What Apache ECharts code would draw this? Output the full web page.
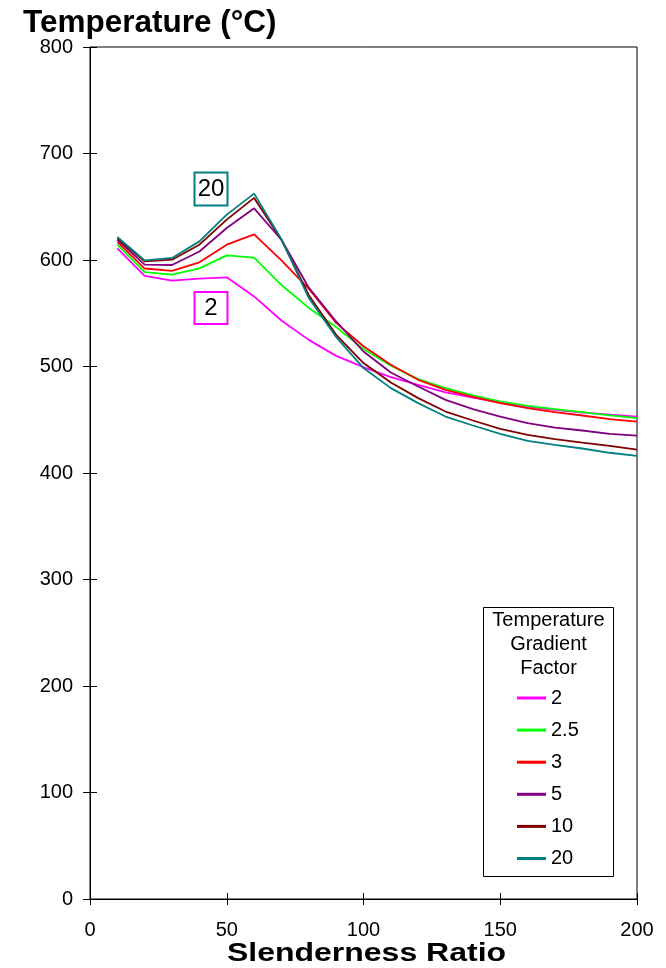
<!DOCTYPE html>
<html>
<head>
<meta charset="utf-8">
<title>Temperature vs Slenderness Ratio</title>
<script src="https://cdn.jsdelivr.net/npm/echarts@6/dist/echarts.min.js"></script>
<style>
  html, body { margin: 0; padding: 0; background: #fff; }
  #chart { width: 666px; height: 968px; }
</style>
</head>
<body>
<div id="chart"></div>
<script>
// Slenderness ratio sample points
const slenderness = [10, 20, 30, 40, 50, 60, 70, 80, 90, 100, 110, 120, 130, 140, 150, 160, 170, 180, 190, 200];

// Temperature (°C) for each temperature gradient factor
const factorNames = ['2', '2.5', '3', '5', '10', '20'];
const tempFactor2   = [611, 585, 580.6, 582.5, 583.7, 565.8, 543.2, 525, 510, 499.4, 490, 482.8, 475.6, 470.9, 466.2, 462.4, 459.3, 456.8, 454.8, 453];
const tempFactor2_5 = [614.4, 588.7, 586.2, 592.1, 604.4, 602.2, 576.5, 555, 537, 516.5, 500.7, 488.1, 479.7, 472.8, 467.2, 463, 460, 457.1, 454.2, 451.5];
const tempFactor3   = [617, 592, 589.7, 597.8, 614.4, 624.1, 599.7, 573, 541, 519, 501.6, 487.5, 478.1, 471.5, 465.6, 460.9, 457.1, 454, 450.5, 448.3];
const tempFactor5   = [619, 595.6, 595.3, 608, 630, 648.5, 619, 574, 542.3, 514.1, 494.4, 481.2, 468.7, 460, 453, 446.8, 442.7, 439.9, 436.7, 435.1];
const tempFactor10  = [620.3, 598.7, 600.3, 614.4, 637.9, 658.3, 619, 567, 529.8, 503.2, 485, 470.3, 457.7, 449.3, 441.4, 435.8, 431.8, 428.6, 425.5, 422];
const tempFactor20  = [621.6, 599.6, 601.9, 617.5, 642.6, 662.3, 619.5, 564.3, 527.6, 498.5, 479.7, 465.6, 453, 444.6, 436.7, 430.2, 426.4, 423, 419, 416];

const xTicks = [0, 50, 100, 150, 200];
const yTicks = [0, 100, 200, 300, 400, 500, 600, 700, 800];

const seriesValues = [tempFactor2, tempFactor2_5, tempFactor3, tempFactor5, tempFactor10, tempFactor20];
const seriesColors = ['#FF00FF', '#00FF00', '#FF0000', '#800080', '#800000', '#008080'];

const FONT = "'Liberation Sans', Arial, Helvetica, sans-serif";

const chart = echarts.init(document.getElementById('chart'), null, { renderer: 'canvas' });

const series = factorNames.map((name, i) => ({
  name: name,
  type: 'line',
  xAxisIndex: 0,
  yAxisIndex: 0,
  data: slenderness.map((x, j) => [x, seriesValues[i][j]]),
  symbol: 'none',
  smooth: false,
  lineStyle: { color: seriesColors[i], width: 1.8 },
  itemStyle: { color: seriesColors[i] },
  emphasis: { disabled: true },
  z: 3 + i
}));

const xRange = { min: xTicks[0], max: xTicks[xTicks.length - 1], interval: xTicks[1] - xTicks[0] };
const yRange = { min: yTicks[0], max: yTicks[yTicks.length - 1], interval: yTicks[1] - yTicks[0] };

chart.setOption({
  backgroundColor: '#ffffff',
  animation: false,
  title: {
    text: 'Temperature (°C)',
    left: 18,
    top: 2,
    textStyle: { fontFamily: FONT, fontSize: 31.5, fontWeight: 'bold', color: '#000', lineHeight: 32 }
  },
  grid: {
    left: 90, right: 29, top: 47, bottom: 69,
    show: true, borderColor: '#000', borderWidth: 1, backgroundColor: 'transparent'
  },
  legend: {
    orient: 'vertical',
    left: 512,
    top: 683,
    itemWidth: 29,
    itemHeight: 3,
    itemGap: 12.1,
    icon: 'rect',
    selectedMode: false,
    data: factorNames,
    textStyle: { fontFamily: FONT, fontSize: 20, color: '#000', lineHeight: 20 }
  },
  xAxis: [{
    type: 'value',
    min: xRange.min, max: xRange.max, interval: xRange.interval,
    axisLine: { show: true, lineStyle: { color: '#000', width: 1 } },
    axisTick: { show: true, length: 6, lineStyle: { color: '#000' } },
    axisLabel: { margin: 21, fontFamily: FONT, fontSize: 20, color: '#000' },
    splitLine: { show: false }
  }, {
    type: 'value',
    position: 'bottom',
    min: xRange.min, max: xRange.max, interval: xRange.interval,
    axisLine: { show: false },
    axisTick: { show: true, inside: true, length: 6, lineStyle: { color: '#000' } },
    axisLabel: { show: false },
    splitLine: { show: false }
  }],
  yAxis: [{
    type: 'value',
    min: yRange.min, max: yRange.max, interval: yRange.interval,
    axisLine: { show: true, lineStyle: { color: '#000', width: 1 } },
    axisTick: { show: true, length: 7, lineStyle: { color: '#000' } },
    axisLabel: { margin: 17, fontFamily: FONT, fontSize: 20, color: '#000', padding: [3, 0, 0, 0] },
    splitLine: { show: false }
  }, {
    type: 'value',
    position: 'left',
    min: yRange.min, max: yRange.max, interval: yRange.interval,
    axisLine: { show: false },
    axisTick: { show: true, inside: true, length: 7, lineStyle: { color: '#000' } },
    axisLabel: { show: false },
    splitLine: { show: false }
  }],
  graphic: [
    // x-axis title
    {
      type: 'text', silent: true, z: 20,
      x: 366.5, y: 954, scaleY: 0.8,
      style: {
        text: 'Slenderness Ratio',
        font: 'bold 32px ' + FONT, fill: '#000',
        align: 'center', verticalAlign: 'middle'
      }
    },
    // legend frame and heading
    {
      type: 'rect', silent: true, z: 1,
      shape: { x: 483.5, y: 607.5, width: 130, height: 269 },
      style: { fill: '#fff', stroke: '#000', lineWidth: 1 }
    },
    {
      type: 'text', silent: true, z: 2,
      x: 548.5, y: 644,
      style: {
        text: 'Temperature\nGradient\nFactor',
        font: '20px ' + FONT, fill: '#000',
        align: 'center', verticalAlign: 'middle', lineHeight: 24
      }
    },
    // curve tags
    {
      type: 'rect', silent: true, z: 10,
      shape: { x: 194.5, y: 172.5, width: 33, height: 33 },
      style: { fill: '#fff', stroke: '#008080', lineWidth: 2 }
    },
    {
      type: 'text', silent: true, z: 11,
      x: 211, y: 189.5,
      style: { text: '20', font: '24px ' + FONT, fill: '#000', align: 'center', verticalAlign: 'middle' }
    },
    {
      type: 'rect', silent: true, z: 10,
      shape: { x: 194.5, y: 292, width: 33, height: 32 },
      style: { fill: '#fff', stroke: '#FF00FF', lineWidth: 2 }
    },
    {
      type: 'text', silent: true, z: 11,
      x: 211, y: 308.5,
      style: { text: '2', font: '24px ' + FONT, fill: '#000', align: 'center', verticalAlign: 'middle' }
    }
  ],
  series: series
});
</script>
</body>
</html>
